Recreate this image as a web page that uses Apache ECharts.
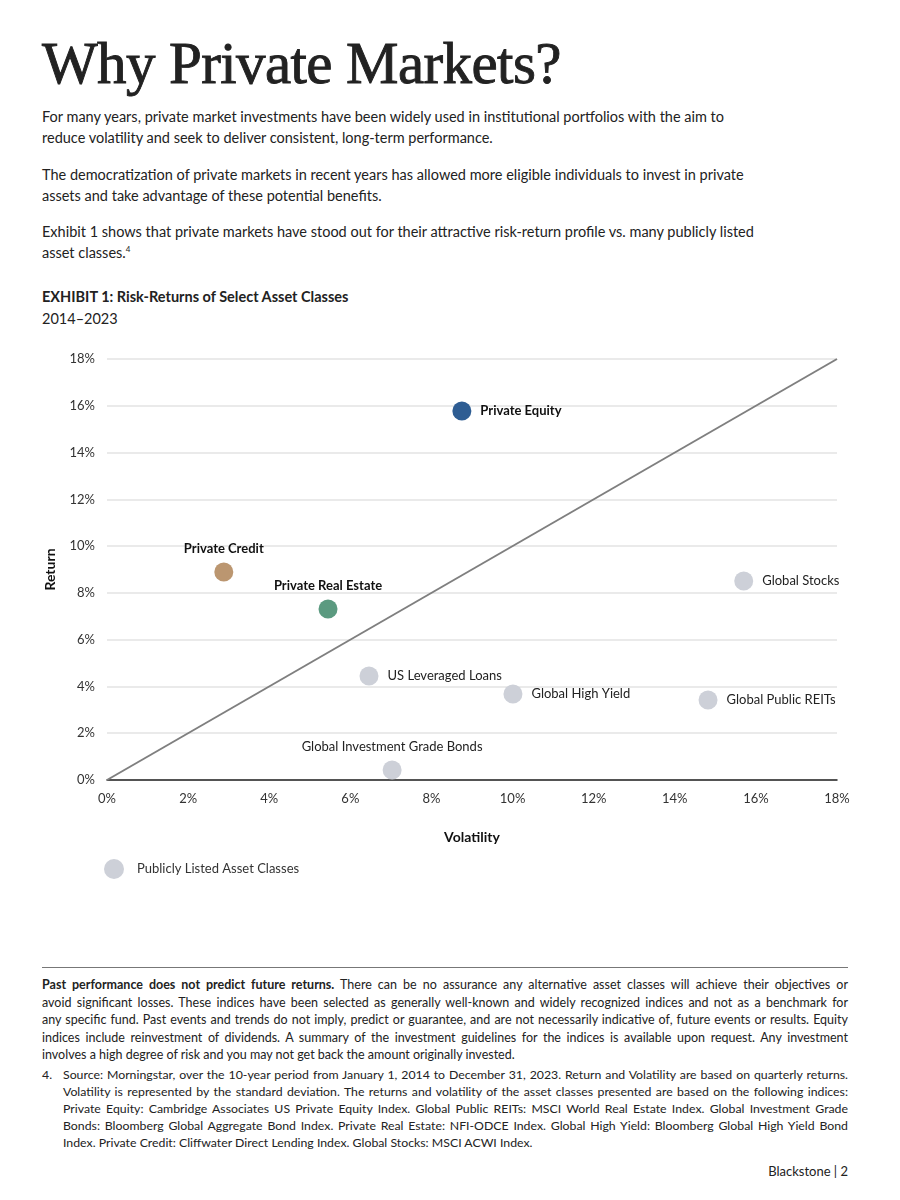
<!DOCTYPE html>
<html>
<head>
<meta charset="utf-8">
<script src="https://cdn.jsdelivr.net/npm/echarts@6/dist/echarts.min.js"></script>
<style>
  body { margin: 0; width: 900px; height: 1200px; background: #fff; color: #222; font-family: Lato, "Open Sans", sans-serif; position: relative; }
  .abs { position: absolute; left: 42px; }
  #title { top: 29px; font-family: "Liberation Serif", serif; font-size: 59px; letter-spacing: -0.6px; color: #222; margin: 0; font-weight: normal; -webkit-text-stroke: 0.9px #222; }
  .para { width: 720px; font-size: 14.5px; line-height: 21px; margin: 0; }
  .para sup { font-size: 8px; line-height: 0; vertical-align: 6px; }
  #exhibit { top: 286px; font-size: 14.5px; line-height: 22px; }
  #chart_scatter { position: absolute; left: 0; top: 340px; width: 900px; height: 550px; }
  #rule { position: absolute; left: 42px; top: 967px; width: 806px; border-top: 1.5px solid #777; }
  .note { width: 806px; font-size: 12.5px; line-height: 17.5px; margin: 0; }
  .note div { white-space: nowrap; text-align: justify; text-align-last: justify; }
  .note div.last { text-align-last: left; }
  #foot4 { top: 1066px; padding-left: 21px; width: 785px; font-size: 12.3px; line-height: 17px; }
  #foot4 span { position: absolute; left: 0; }
  #page { position: absolute; right: 52px; top: 1163px; font-size: 13px; }
</style>
</head>
<body>
<h1 id="title" class="abs">Why Private Markets?</h1>
<p class="abs para" style="top:106px">For many years, private market investments have been widely used in institutional portfolios with the aim to reduce volatility and seek to deliver consistent, long-term performance.</p>
<p class="abs para" style="top:164px">The democratization of private markets in recent years has allowed more eligible individuals to invest in private assets and take advantage of these potential benefits.</p>
<p class="abs para" style="top:221px">Exhibit 1 shows that private markets have stood out for their attractive risk-return profile vs. many publicly listed asset classes.<sup>4</sup></p>
<div id="exhibit" class="abs"><b>EXHIBIT 1: Risk-Returns of Select Asset Classes</b><br>2014–2023</div>
<div id="chart_scatter"></div>
<div id="rule"></div>
<div class="abs note" style="top:976px">
  <div><b>Past performance does not predict future returns.</b> There can be no assurance any alternative asset classes will achieve their objectives or</div>
  <div>avoid significant losses. These indices have been selected as generally well-known and widely recognized indices and not as a benchmark for</div>
  <div>any specific fund. Past events and trends do not imply, predict or guarantee, and are not necessarily indicative of, future events or results. Equity</div>
  <div>indices include reinvestment of dividends. A summary of the investment guidelines for the indices is available upon request. Any investment</div>
  <div class="last">involves a high degree of risk and you may not get back the amount originally invested.</div>
</div>
<div id="foot4" class="abs note"><span>4.</span>
  <div>Source: Morningstar, over the 10-year period from January 1, 2014 to December 31, 2023. Return and Volatility are based on quarterly returns.</div>
  <div>Volatility is represented by the standard deviation. The returns and volatility of the asset classes presented are based on the following indices:</div>
  <div>Private Equity: Cambridge Associates US Private Equity Index. Global Public REITs: MSCI World Real Estate Index. Global Investment Grade</div>
  <div>Bonds: Bloomberg Global Aggregate Bond Index. Private Real Estate: NFI-ODCE Index. Global High Yield: Bloomberg Global High Yield Bond</div>
  <div class="last">Index. Private Credit: Cliffwater Direct Lending Index. Global Stocks: MSCI ACWI Index.</div>
</div>
<div id="page">Blackstone | 2</div>

<script>
// private markets (coloured, bold labels)
const privateNames = ['Private Equity', 'Private Credit', 'Private Real Estate']
const privateVol = [8.75, 2.88, 5.45]
const privateRet = [15.78, 8.89, 7.31]

// publicly listed asset classes (grey)
const publicNames = ['Global Stocks', 'US Leveraged Loans', 'Global High Yield', 'Global Public REITs', 'Global Investment Grade Bonds']
const publicVol = [15.7, 6.46, 10.01, 14.82, 7.03]
const publicRet = [8.51, 4.45, 3.68, 3.42, 0.43]

const axisTicks = [0, 2, 4, 6, 8, 10, 12, 14, 16, 18]

const privateColors = { 'Private Equity': '#2e5d93', 'Private Credit': '#bb9670', 'Private Real Estate': '#5b9a80' }
const labelPos = { 'Private Equity': 'right', 'Private Credit': 'top', 'Private Real Estate': 'top', 'Global Investment Grade Bonds': 'top' }
const font = 'Lato, "Open Sans", sans-serif'

const chart = echarts.init(document.getElementById('chart_scatter'))

const privateSeries = privateNames.map((name, i) => ({
  name: name,
  type: 'scatter',
  symbolSize: 19,
  data: [[privateVol[i], privateRet[i]]],
  itemStyle: { color: privateColors[name], opacity: 1 },
  label: {
    show: true,
    formatter: name,
    position: labelPos[name] || 'right',
    distance: labelPos[name] === 'top' ? 7 : 9,
    color: '#111',
    fontWeight: 'bold',
    fontSize: 13,
    fontFamily: font
  },
  z: 3
}))

chart.setOption({
  animation: false,
  textStyle: { fontFamily: font },
  grid: { left: 107, right: 63, top: 19, bottom: 110 },
  legend: {
    data: ['Publicly Listed Asset Classes'],
    left: 104,
    top: 519,
    padding: 0,
    itemWidth: 20,
    itemHeight: 20,
    itemGap: 12,
    textStyle: { fontSize: 13, color: '#333', fontFamily: font, padding: [0, 0, 0, 8] }
  },
  xAxis: {
    type: 'value',
    min: 0,
    max: 18,
    interval: 2,
    name: 'Volatility',
    nameLocation: 'middle',
    nameGap: 50,
    nameTextStyle: { fontSize: 14, fontWeight: 'bold', color: '#111' },
    axisLine: { lineStyle: { color: '#222', width: 1.5 } },
    axisTick: { show: false },
    splitLine: { show: false },
    axisLabel: { formatter: '{value}%', color: '#333', fontSize: 13, margin: 12 }
  },
  yAxis: {
    type: 'value',
    min: 0,
    max: 18,
    interval: 2,
    name: 'Return',
    nameLocation: 'middle',
    nameGap: 50,
    nameTextStyle: { fontSize: 14, fontWeight: 'bold', color: '#111' },
    axisLine: { show: false },
    axisTick: { show: false },
    splitLine: { lineStyle: { color: '#e3e3e3', width: 1.5 } },
    axisLabel: { formatter: '{value}%', color: '#333', fontSize: 13, margin: 12 }
  },
  series: [
    {
      name: 'diagonal',
      type: 'line',
      data: [[axisTicks[0], axisTicks[0]], [axisTicks[axisTicks.length - 1], axisTicks[axisTicks.length - 1]]],
      showSymbol: false,
      silent: true,
      lineStyle: { color: '#7f7f7f', width: 2 },
      z: 1
    },
    ...privateSeries,
    {
      name: 'Publicly Listed Asset Classes',
      type: 'scatter',
      symbolSize: 19,
      itemStyle: { color: '#cdd0d8', opacity: 1 },
      data: publicNames.map((name, i) => ({
        name: name,
        value: [publicVol[i], publicRet[i]],
        label: { position: labelPos[name] || 'right', distance: labelPos[name] === 'top' ? 7 : 9 }
      })),
      label: {
        show: true,
        formatter: '{b}',
        color: '#222',
        fontSize: 13,
        fontFamily: font
      },
      z: 2
    }
  ]
})
</script>
</body>
</html>
